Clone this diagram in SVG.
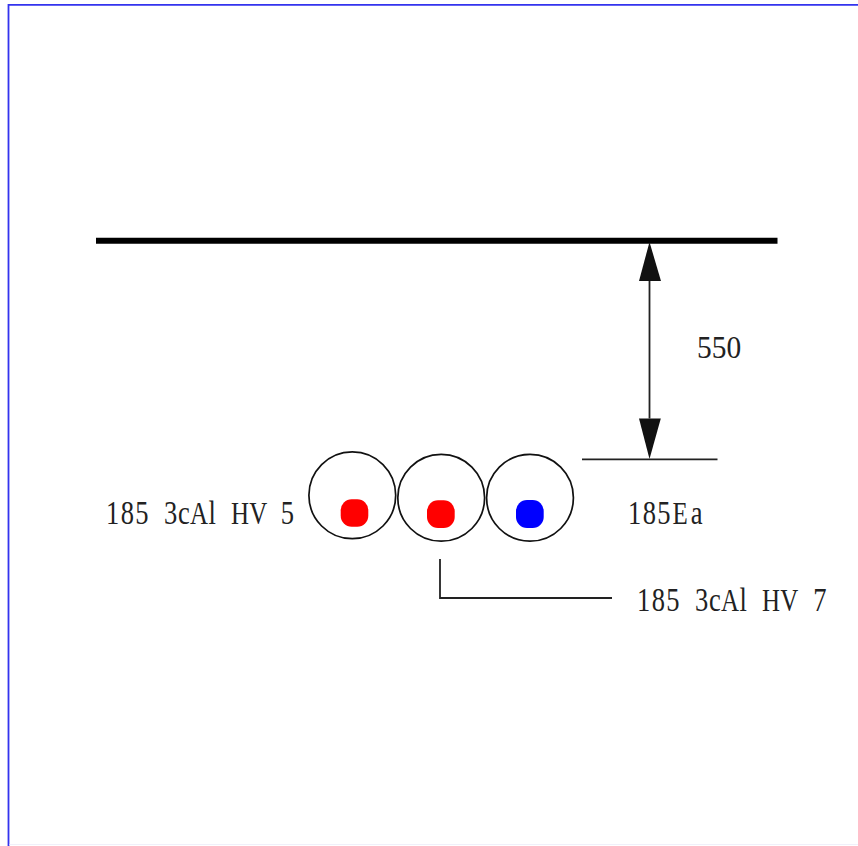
<svg xmlns="http://www.w3.org/2000/svg" width="858" height="846" viewBox="0 0 858 846">
<style>
.t{font-family:"Liberation Serif","Times New Roman",serif;font-size:34px;fill:#222}
.u{font-size:32px}
.c{fill:#fff;stroke:#111;stroke-width:1.7}
.l{fill:none;stroke:#222;stroke-width:1.8}
.h{fill:#111;stroke:none}
</style>
<rect width="858" height="846" fill="#fff"/>
<g id="frame">
<path d="M858 4.8H8.500V846" fill="none" stroke="#3333ee" stroke-width="1.8"/>
<path d="M9.500 844.500H858" fill="none" stroke="#f0f0fa" stroke-width="1"/>
</g>
<g id="connectors">
<path d="M96 240.800H777.500" fill="none" stroke="#000" stroke-width="6"/>
<path class="l" d="M649.500 281V418.500"/>
<polygon class="h" points="649.500,242 661,281 639,281"/>
<polygon class="h" points="649.500,459 639,418.500 660.800,418.500"/>
<path class="l" d="M582 459.300H717.500"/>
<path class="l" d="M440 559V598H612"/>
</g>
<g id="cable-1">
<circle class="c" cx="352.300" cy="495.300" r="43.400"/>
<rect x="340.700" y="499.300" width="27.600" height="27.400" rx="11" fill="#f00"/>
</g>
<g id="cable-2">
<circle class="c" cx="441.200" cy="497.800" r="43.400"/>
<rect x="427" y="500.300" width="27.700" height="27.700" rx="11" fill="#f00"/>
</g>
<g id="cable-3">
<circle class="c" cx="530" cy="497.800" r="43.400"/>
<rect x="516" y="500" width="27.700" height="28" rx="11" fill="#00f"/>
</g>
<g id="labels">
<text class="t" transform="translate(106 523.500) scale(.78 1)" x="0 18.800 37.400 56.400 74.400 92.300 107.700 131.400 150 160.300 183.600 207 224">185 3c<tspan class="u">A</tspan>l <tspan class="u">HV</tspan> 5</text>
<text class="t" transform="translate(628 524) scale(.78 1)" x="0 18.800 37.400 57 80.500">185<tspan class="u">E</tspan>a</text>
<text class="t" transform="translate(637 611) scale(.78 1)" x="0 18.800 37.400 56.400 74.400 92.300 107.700 131.400 150 160.300 183.600 207 226">185 3c<tspan class="u">A</tspan>l <tspan class="u">HV</tspan> 7</text>
<text class="t" transform="translate(697 358) scale(.95 1)" style="font-size:31px">550</text>
</g>
</svg>
